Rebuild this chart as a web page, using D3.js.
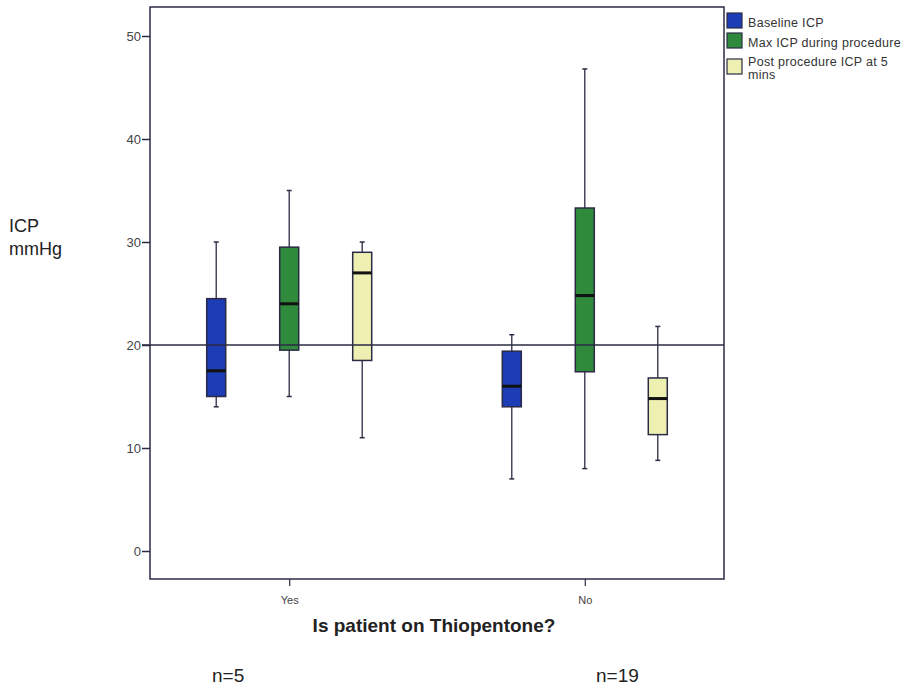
<!DOCTYPE html>
<html>
<head>
<meta charset="utf-8">
<script src="https://cdnjs.cloudflare.com/ajax/libs/d3/7.8.5/d3.min.js"></script>
<style>
  body { margin: 0; background: #fff; }
  svg { display: block; font-family: "Liberation Sans", Arial, sans-serif; }
</style>
</head>
<body>
<div id="chart"></div>
<script>
// Categories and series
const groups = ['Yes', 'No'];
const groupCounts = ['n=5', 'n=19'];
const seriesNames = ['Baseline ICP', 'Max ICP during procedure', 'Post procedure ICP at 5 mins'];
const seriesColors = ['#1c3db5', '#2f8a3c', '#eef0b2'];

// five-number summaries per group: [min, q1, median, q3, max]
const baselineICP = [[14, 15, 17.5, 24.5, 30], [7, 14, 16, 19.4, 21]];
const maxICP = [[15, 19.5, 24, 29.5, 35], [8, 17.4, 24.8, 33.3, 46.8]];
const postICP = [[11, 18.5, 27, 29, 30], [8.8, 11.3, 14.8, 16.8, 21.8]];
const yTicks = [0, 10, 20, 30, 40, 50];
const referenceLine = 20;

const seriesValues = [baselineICP, maxICP, postICP];

const W = 913, H = 692;
const frame = { left: 150, right: 724, top: 7, bottom: 579 };
const lineColor = '#2b2b45';
const font = '"Liberation Sans", Arial, sans-serif';

const svg = d3.select('#chart').append('svg')
  .attr('width', W)
  .attr('height', H);

// Scales
const x = d3.scalePoint()
  .domain(groups)
  .range([frame.left, frame.right])
  .padding(0.471);

const sub = d3.scalePoint()
  .domain(seriesNames)
  .range([-73, 73]);

const y = d3.scaleLinear()
  .domain([0, 50])
  .range([551, 36]);

const boxW = 19;
const capW = 5;

// Frame
svg.append('rect')
  .attr('x', frame.left)
  .attr('y', frame.top)
  .attr('width', frame.right - frame.left)
  .attr('height', frame.bottom - frame.top)
  .attr('fill', 'none')
  .attr('stroke', lineColor)
  .attr('stroke-width', 1.5);

// Y axis
const yAxis = d3.axisLeft(y).tickValues(yTicks).tickSize(8).tickPadding(1);
const yg = svg.append('g')
  .attr('transform', `translate(${frame.left},0)`)
  .call(yAxis);
yg.select('.domain').remove();
yg.selectAll('line').attr('stroke', lineColor).attr('stroke-width', 1.5);
yg.selectAll('text')
  .attr('fill', '#444')
  .attr('font-size', '13px')
  .attr('font-family', font);

// X axis
const xAxis = d3.axisBottom(x).tickSize(7).tickPadding(10);
const xg = svg.append('g')
  .attr('transform', `translate(0,${frame.bottom})`)
  .call(xAxis);
xg.select('.domain').remove();
xg.selectAll('line').attr('stroke', lineColor).attr('stroke-width', 1.2);
xg.selectAll('text')
  .attr('fill', '#444')
  .attr('font-size', '11px')
  .attr('font-family', font);

// Boxes
groups.forEach((g, gi) => {
  seriesNames.forEach((s, si) => {
    const [mn, q1, med, q3, mx] = seriesValues[si][gi];
    const cx = x(g) + sub(s);
    const grp = svg.append('g');
    // whiskers
    grp.append('line')
      .attr('x1', cx).attr('x2', cx)
      .attr('y1', y(mx)).attr('y2', y(q3))
      .attr('stroke', lineColor).attr('stroke-width', 1.3);
    grp.append('line')
      .attr('x1', cx).attr('x2', cx)
      .attr('y1', y(q1)).attr('y2', y(mn))
      .attr('stroke', lineColor).attr('stroke-width', 1.3);
    [mn, mx].forEach(v => {
      grp.append('line')
        .attr('x1', cx - capW / 2).attr('x2', cx + capW / 2)
        .attr('y1', y(v)).attr('y2', y(v))
        .attr('stroke', lineColor).attr('stroke-width', 1.5);
    });
    grp.append('rect')
      .attr('x', cx - boxW / 2)
      .attr('y', y(q3))
      .attr('width', boxW)
      .attr('height', y(q1) - y(q3))
      .attr('fill', seriesColors[si])
      .attr('stroke', lineColor)
      .attr('stroke-width', 1.5);
    grp.append('line')
      .attr('x1', cx - boxW / 2).attr('x2', cx + boxW / 2)
      .attr('y1', y(med)).attr('y2', y(med))
      .attr('stroke', '#111')
      .attr('stroke-width', 3);
  });
});

// Reference line
svg.append('line')
  .attr('x1', frame.left - 8)
  .attr('x2', frame.right)
  .attr('y1', y(referenceLine))
  .attr('y2', y(referenceLine))
  .attr('stroke', lineColor)
  .attr('stroke-width', 1.3);

// Legend
const legend = svg.append('g').attr('transform', 'translate(727,13)');
const legendRows = [0, 20, 46];
seriesNames.forEach((s, i) => {
  const ly = legendRows[i];
  legend.append('rect')
    .attr('x', 0).attr('y', ly)
    .attr('width', 15).attr('height', 15)
    .attr('fill', seriesColors[i])
    .attr('stroke', lineColor)
    .attr('stroke-width', 1.2);
  const lines = i === 2 ? ['Post procedure ICP at 5', 'mins'] : [s];
  lines.forEach((t, li) => {
    legend.append('text')
      .attr('x', 21)
      .attr('y', ly + 14 + li * 13 - (i === 2 ? 7 : 0))
      .attr('font-size', '12.5px')
      .attr('letter-spacing', '0.3px')
      .attr('fill', '#333')
      .text(t);
  });
});

// Axis titles
svg.append('text')
  .attr('x', 434)
  .attr('y', 632)
  .attr('text-anchor', 'middle')
  .attr('font-size', '19px')
  .attr('font-weight', 'bold')
  .attr('fill', '#222')
  .text('Is patient on Thiopentone?');

svg.append('text')
  .attr('x', 9).attr('y', 232)
  .attr('font-size', '18px')
  .attr('fill', '#222')
  .text('ICP');
svg.append('text')
  .attr('x', 9).attr('y', 255)
  .attr('font-size', '18px')
  .attr('fill', '#222')
  .text('mmHg');

// Counts
const nX = [212, 596];
groupCounts.forEach((t, i) => {
  svg.append('text')
    .attr('x', nX[i]).attr('y', 682)
    .attr('font-size', '19px')
    .attr('fill', '#222')
    .text(t);
});
</script>
</body>
</html>
